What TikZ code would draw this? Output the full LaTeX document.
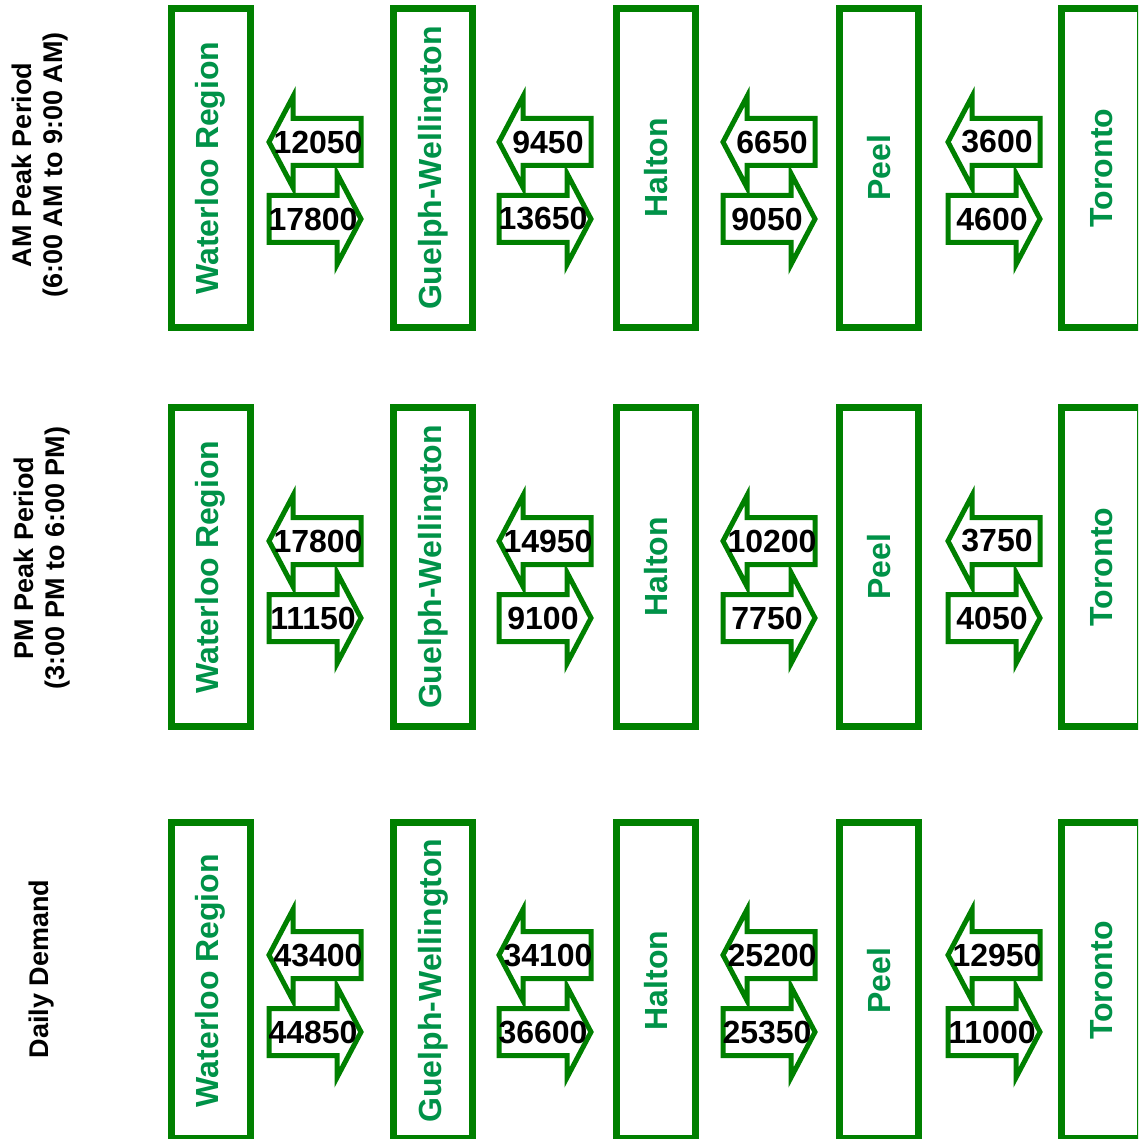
\documentclass[tikz,border=0pt]{standalone}
\usepackage{fontspec}
\setmainfont{Liberation Sans}
\usetikzlibrary{positioning}
\definecolor{boxgreen}{RGB}{0,128,0}
\definecolor{namegreen}{RGB}{0,146,72}

% pair of block arrows between two regions: x, y of the west tip, westward, eastward, name
\newcommand{\flowpair}[5]{%
  \begin{scope}[shift={(#1,#2)}]
    \draw[flowarrow] (0,0) -- (24,-45.5) -- (24,-23.5) -- (92,-23.5) -- (92,23.5) -- (24,23.5) -- (24,45.5) -- cycle;
    \node[flownum] (#5w) at (49,0) {#3};
    \draw[flowarrow] (92,77) -- (68,31.5) -- (68,53.5) -- (0,53.5) -- (0,100.5) -- (68,100.5) -- (68,122.5) -- cycle;
    \node[flownum] (#5e) at (44,77) {#4};
  \end{scope}}

\begin{document}
\begin{tikzpicture}[x=1pt,y=-1pt,every node/.style={font=\bfseries},
    regionbox/.style={draw=boxgreen,line width=7pt,fill=white,rotate=90,minimum height=79pt,inner sep=0pt,
      text=namegreen,font=\bfseries\fontsize{32}{38}\selectfont},
    flowarrow/.style={draw=boxgreen,line width=5pt,fill=white,line join=miter},
    flownum/.style={inner sep=0pt,font=\bfseries\fontsize{32}{38}\selectfont},
    periodlabel/.style={rotate=90,align=center,inner sep=0pt,font=\bfseries\fontsize{27}{31}\selectfont}]
  \useasboundingbox (0,0) rectangle (1138,1139);
  \clip (0,0) rectangle (1138,1139);

  % periods
  \node[periodlabel] (am) at (40,165) {AM Peak Period\\(6:00 AM to 9:00 AM)};
  \node[periodlabel] (pm) at (42,558) {PM Peak Period\\(3:00 PM to 6:00 PM)};
  \node[periodlabel] (daily) at (42,969) {Daily Demand};

  % regions, west to east
  \foreach \r/\yc/\h in {1/168/319, 2/567/318.5, 3/980.6/316} {
    \foreach \name [count=\c from 0] in {Waterloo Region, Guelph-Wellington, Halton, Peel, Toronto}
      \node[regionbox,minimum width=\h pt] (box\r-\c) at (210.5+222.7*\c,\yc) {\name};
  }

  % AM peak
  \flowpair{269}{142}{12050}{17800}{am1}
  \flowpair{499}{142}{9450}{13650}{am2}
  \flowpair{723}{142}{6650}{9050}{am3}
  \flowpair{948}{142}{3600}{4600}{am4}
  % PM peak
  \flowpair{269}{541}{17800}{11150}{pm1}
  \flowpair{499}{541}{14950}{9100}{pm2}
  \flowpair{723}{541}{10200}{7750}{pm3}
  \flowpair{948}{541}{3750}{4050}{pm4}
  % daily
  \flowpair{269}{955}{43400}{44850}{dd1}
  \flowpair{499}{955}{34100}{36600}{dd2}
  \flowpair{723}{955}{25200}{25350}{dd3}
  \flowpair{948}{955}{12950}{11000}{dd4}
\end{tikzpicture}
\end{document}
